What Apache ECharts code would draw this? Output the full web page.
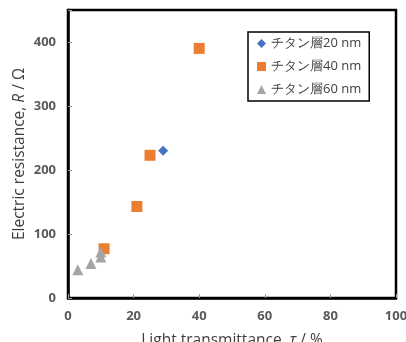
<!DOCTYPE html>
<html>
<head>
<meta charset="utf-8">
<script src="https://cdn.jsdelivr.net/npm/echarts@6/dist/echarts.min.js"></script>
<style>
  html, body { margin: 0; padding: 0; background: #fff; }
  #chart { width: 406px; height: 342px; }
</style>
</head>
<body>
<div id="chart"></div>
<script>
// 凡例名
var seriesNames = ['チタン層20 nm', 'チタン層40 nm', 'チタン層60 nm'];
// [透過率 %, 抵抗 Ω]
var ti20 = [[29, 230]];
var ti40 = [[40, 390], [25, 223], [21, 143], [11, 77]];
var ti60 = [[3, 44], [7, 54], [10, 64], [10, 72]];
var xTicks = [0, 20, 40, 60, 80, 100];
var yTicks = [0, 100, 200, 300, 400];

var chart = echarts.init(document.getElementById('chart'));

var labelColor = '#595959';
var font = 'Open Sans, Noto Sans, sans-serif';

var option = {
    animation: false,
    grid: {
        left: 68, right: 10, top: 10, bottom: 44,
        outerBoundsMode: 'none',
        show: true,
        borderColor: '#000',
        borderWidth: 2.5
    },
    legend: {
        orient: 'vertical',
        left: 248, top: 32,
        padding: [5, 8, 5, 9],
        itemGap: 10,
        itemWidth: 9, itemHeight: 9,
        borderColor: '#000',
        borderWidth: 1.5,
        backgroundColor: '#fff',
        textStyle: { color: '#404040', fontSize: 13, fontFamily: font },
        data: [
            { name: seriesNames[0], icon: 'diamond' },
            { name: seriesNames[1], icon: 'rect' },
            { name: seriesNames[2], icon: 'triangle' }
        ]
    },
    xAxis: {
        type: 'value',
        min: xTicks[0], max: xTicks[xTicks.length - 1], interval: 20,
        name: 'Light transmittance, {i|τ} / %',
        nameLocation: 'middle',
        nameGap: 35,
        nameTextStyle: {
            color: '#404040', fontSize: 15.5, fontFamily: font,
            rich: { i: { fontStyle: 'italic', fontSize: 15.5, color: '#404040', fontFamily: font } }
        },
        axisLine: { show: true, lineStyle: { color: '#000', width: 2.5 } },
        axisTick: { show: true, inside: true, length: 4, lineStyle: { color: '#999' } },
        axisLabel: { color: labelColor, fontSize: 13, fontWeight: 'bold', fontFamily: font, margin: 12 },
        splitLine: { show: false }
    },
    yAxis: {
        type: 'value',
        min: 0, max: 450, interval: 100,
        name: 'Electric resistance, {i|R} / Ω',
        nameLocation: 'middle',
        nameGap: 40,
        nameMoveOverlap: false,
        nameTextStyle: {
            color: '#404040', fontSize: 15.5, fontFamily: font,
            rich: { i: { fontStyle: 'italic', fontSize: 15.5, color: '#404040', fontFamily: font } }
        },
        axisLine: { show: true, lineStyle: { color: '#000', width: 2.5 } },
        axisTick: { show: true, inside: true, length: 4, lineStyle: { color: '#999' } },
        axisLabel: {
            color: labelColor, fontSize: 13, fontWeight: 'bold', fontFamily: font, margin: 12,
            formatter: function (v) { return yTicks.indexOf(v) >= 0 ? String(v) : ''; }
        },
        splitLine: { show: false }
    },
    series: [
        {
            name: seriesNames[0], type: 'scatter', symbol: 'diamond', symbolSize: 10,
            itemStyle: { color: '#4472C4', opacity: 1 }, data: ti20
        },
        {
            name: seriesNames[1], type: 'scatter', symbol: 'rect', symbolSize: 11,
            itemStyle: { color: '#ED7D31', opacity: 1 }, data: ti40
        },
        {
            name: seriesNames[2], type: 'scatter', symbol: 'triangle', symbolSize: 11,
            itemStyle: { color: '#A5A5A5', opacity: 1 }, data: ti60
        }
    ]
};

chart.setOption(option);
</script>
</body>
</html>
